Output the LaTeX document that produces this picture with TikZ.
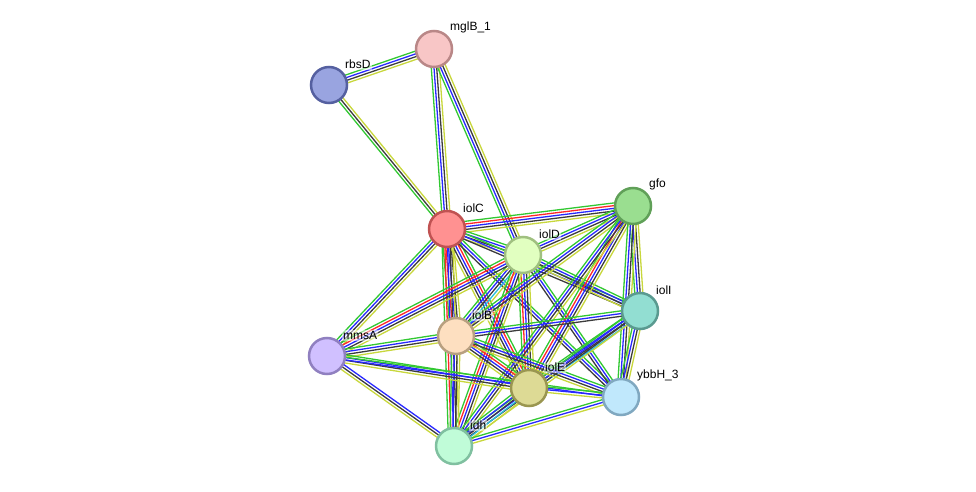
\documentclass[tikz,border=0pt]{standalone}
\usepackage{fontspec}
\setmainfont{Liberation Sans}
\usetikzlibrary{calc,backgrounds}

\definecolor{ngreen}{RGB}{50,200,50}
\definecolor{nred}{RGB}{255,40,40}
\definecolor{nblue}{RGB}{40,40,255}
\definecolor{nblack}{RGB}{60,60,60}
\definecolor{ncyan}{RGB}{40,190,220}
\definecolor{nyellow}{RGB}{200,215,60}

\definecolor{mglBfill}{RGB}{248,198,198}\definecolor{mglBdraw}{RGB}{185,135,135}
\definecolor{rbsDfill}{RGB}{153,164,224}\definecolor{rbsDdraw}{RGB}{85,96,160}
\definecolor{iolCfill}{RGB}{255,145,145}\definecolor{iolCdraw}{RGB}{192,82,82}
\definecolor{iolDfill}{RGB}{225,255,192}\definecolor{iolDdraw}{RGB}{160,192,128}
\definecolor{gfofill}{RGB}{154,222,144}\definecolor{gfodraw}{RGB}{96,160,88}
\definecolor{iolIfill}{RGB}{146,222,210}\definecolor{iolIdraw}{RGB}{90,154,144}
\definecolor{iolBfill}{RGB}{253,223,192}\definecolor{iolBdraw}{RGB}{184,160,128}
\definecolor{mmsAfill}{RGB}{208,192,255}\definecolor{mmsAdraw}{RGB}{144,128,192}
\definecolor{iolEfill}{RGB}{221,218,149}\definecolor{iolEdraw}{RGB}{154,150,80}
\definecolor{ybbHfill}{RGB}{192,232,252}\definecolor{ybbHdraw}{RGB}{128,168,192}
\definecolor{idhfill}{RGB}{192,252,216}\definecolor{idhdraw}{RGB}{128,192,160}

\newcommand{\linkpair}[3]{%
  \foreach \c [count=\n] in {#3} {\xdef\nlines{\n}}%
  \foreach \c [count=\i] in {#3} {%
    \pgfmathsetmacro\off{((\nlines+1)/2-\i)*2.7}%
    \draw[\c, edgeline] ($(#1)!\off pt!90:(#2)$) -- ($(#2)!\off pt!-90:(#1)$);
  }%
}

\begin{document}
\begin{tikzpicture}[x=1pt,y=-1pt]
\tikzset{
prot/.style={circle, minimum size=36pt, inner sep=0pt, line width=2.5pt},
plabel/.style={font=\fontsize{12}{14}\selectfont, inner sep=1pt, fill=white, fill opacity=0.5, text opacity=1},
edgeline/.style={line width=1.3pt},
every label/.style={label distance=2pt},
}
\useasboundingbox (0,0) rectangle (976,492);

\node [prot, fill=mglBfill, draw=mglBdraw, label={[plabel]45:mglB\_1}] (mglB) at (434,49) {};
\node [prot, fill=rbsDfill, draw=rbsDdraw, label={[plabel]45:rbsD}] (rbsD) at (329,85) {};
\node [prot, fill=iolCfill, draw=iolCdraw, label={[plabel]45:iolC}] (iolC) at (447,229) {};
\node [prot, fill=iolDfill, draw=iolDdraw, label={[plabel]45:iolD}] (iolD) at (523,255) {};
\node [prot, fill=gfofill, draw=gfodraw, label={[plabel]45:gfo}] (gfo) at (633,206) {};
\node [prot, fill=iolIfill, draw=iolIdraw, label={[plabel]45:iolI}] (iolI) at (640,311) {};
\node [prot, fill=iolBfill, draw=iolBdraw, label={[plabel]45:iolB}] (iolB) at (456,336) {};
\node [prot, fill=mmsAfill, draw=mmsAdraw, label={[plabel]45:mmsA}] (mmsA) at (327,356) {};
\node [prot, fill=iolEfill, draw=iolEdraw, label={[plabel]45:iolE}] (iolE) at (529,388) {};
\node [prot, fill=ybbHfill, draw=ybbHdraw, label={[plabel]45:ybbH\_3}] (ybbH) at (621,397) {};
\node [prot, fill=idhfill, draw=idhdraw, label={[plabel]45:idh}] (idh) at (454,446) {};

\begin{pgfonlayer}{background}
\linkpair{rbsD}{mglB}{ngreen,nblue,nblack,nyellow}
\linkpair{iolC}{rbsD}{ngreen,nblack,nyellow}
\linkpair{iolC}{mglB}{ngreen,nblue,nblack,nyellow}
\linkpair{iolD}{mglB}{ngreen,nblue,nblack,nyellow}
\linkpair{iolC}{gfo}{ngreen,nred,nblue,nblack,nyellow}
\linkpair{iolC}{iolD}{ngreen,nblue,nblack,nyellow}
\linkpair{iolC}{iolI}{ngreen,nblue,nblack}
\linkpair{iolB}{iolC}{ngreen,nred,nblue,nblack,nyellow}
\linkpair{mmsA}{iolC}{ngreen,nblue,nblack,nyellow}
\linkpair{iolC}{iolE}{ngreen,nred,nblue,nblack,nyellow}
\linkpair{iolC}{ybbH}{ngreen,nblue,nblack}
\linkpair{idh}{iolC}{ngreen,nred,nblue,nblack,nyellow}
\linkpair{iolD}{gfo}{ngreen,nblue,nblack,nyellow}
\linkpair{iolD}{iolI}{ngreen,nblue,nblack,nyellow}
\linkpair{iolB}{iolD}{ngreen,nblue,nblack,ncyan,nyellow}
\linkpair{mmsA}{iolD}{ngreen,nred,nblue,nblack,nyellow}
\linkpair{iolE}{iolD}{ngreen,nred,nblue,nblack,nyellow}
\linkpair{iolD}{ybbH}{ngreen,nblue,nblack}
\linkpair{idh}{iolD}{ngreen,nred,nblue,nblack,nyellow}
\linkpair{iolI}{gfo}{ngreen,nblue,nblack,nyellow}
\linkpair{iolB}{gfo}{ngreen,nblue,nblack,nyellow}
\linkpair{iolE}{gfo}{ngreen,nred,nblue,nblack,nyellow}
\linkpair{ybbH}{gfo}{ngreen,nblue,nblack,nyellow}
\linkpair{idh}{gfo}{ngreen,nblue,nblack,nyellow}
\linkpair{iolB}{iolI}{ngreen,nblue,nblack}
\linkpair{iolE}{iolI}{ngreen,nblue,nblack,ncyan}
\linkpair{ybbH}{iolI}{ngreen,nblue,nblack,nyellow}
\linkpair{idh}{iolI}{ngreen,nblue,nblack,nyellow}
\linkpair{mmsA}{iolB}{ngreen,nblue,nblack,nyellow}
\linkpair{iolB}{iolE}{ngreen,nred,nblue,nblack,nyellow}
\linkpair{iolB}{ybbH}{ngreen,nblue,nblack,nyellow}
\linkpair{idh}{iolB}{ngreen,nblue,nblack,nyellow}
\linkpair{mmsA}{iolE}{ngreen,nblue,nblack,nyellow}
\linkpair{mmsA}{ybbH}{ngreen,nblue}
\linkpair{mmsA}{idh}{nblue,nblack,nyellow}
\linkpair{iolE}{ybbH}{ngreen,nblue,nyellow}
\linkpair{idh}{iolE}{ngreen,nblue,nblack,ncyan,nyellow}
\linkpair{idh}{ybbH}{ngreen,nblue,nyellow}
\end{pgfonlayer}
\end{tikzpicture}
\end{document}
